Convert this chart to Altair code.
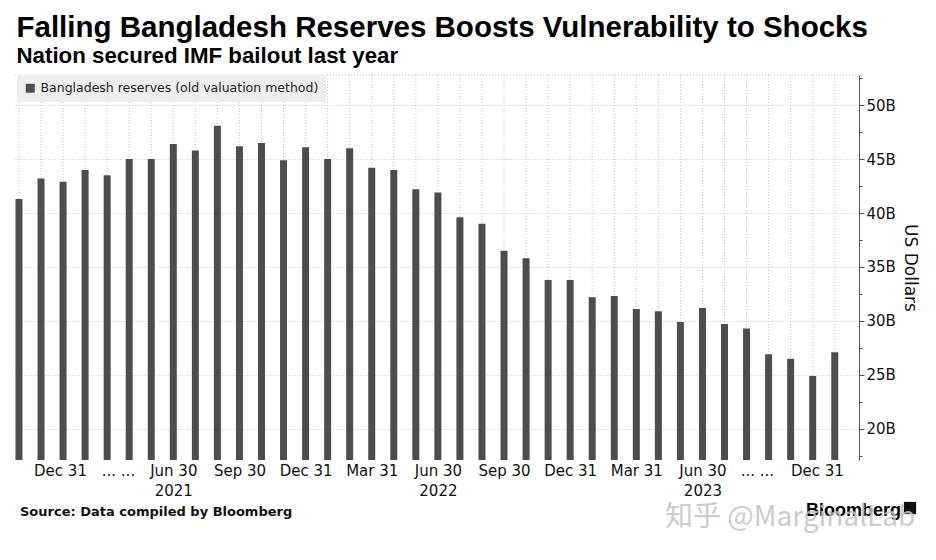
import altair as alt
import pandas as pd

# ---- data ----
months = pd.date_range("2020-11-30", periods=38, freq="ME").strftime("%Y-%m").tolist()
reserves = [41.3, 43.2, 42.9, 44.0, 43.5, 45.0, 45.0, 46.4, 45.8, 48.1,
            46.2, 46.5, 44.9, 46.1, 45.0, 46.0, 44.2, 44.0, 42.2, 41.9,
            39.6, 39.0, 36.5, 35.8, 33.8, 33.8, 32.2, 32.3, 31.1, 30.9,
            29.9, 31.2, 29.7, 29.3, 26.9, 26.5, 24.9, 27.1]
series_name = "Bangladesh reserves (old valuation method)"

tick_pos = [1.86, 4.49, 7, 10, 13, 16, 19, 22, 25, 28, 31, 33.47, 36.19]
tick_text = ["Dec 31", "... ...", "Jun 30", "Sep 30", "Dec 31", "Mar 31", "Jun 30",
             "Sep 30", "Dec 31", "Mar 31", "Jun 30", "... ...", "Dec 31"]
tick_year = ["", "", "2021", "", "", "", "2022", "", "", "", "2023", "", ""]

y_ticks = [17.5 + 2.5 * k for k in range(15)]
y_domain = [17.1, 52.8]
x_domain = [-0.18, 38.1]

W, H = 844, 385

df = pd.DataFrame({"idx": list(range(len(reserves))), "month": months,
                   "value": reserves, "series": series_name})

# label expression
parts = []
for t, yv in zip(tick_text, tick_year):
    parts.append(f"['{t}','{yv}']" if yv else f"'{t}'")
label_expr = "[" + ",".join(parts) + "][indexof([" + ",".join(str(p) for p in tick_pos) + "], datum.value)]"

xscale = alt.Scale(domain=x_domain, nice=False, zero=False, padding=0)
yscale = alt.Scale(domain=y_domain, nice=False, zero=False)

x_axis = alt.Axis(values=tick_pos, labelExpr=label_expr, domain=False, ticks=False, grid=False,
                  labelFont="DejaVu Sans", labelFontSize=15, labelColor="#111",
                  labelPadding=3, labelLineHeight=20, labelAngle=0, labelAlign="center",
                  labelOverlap=False, labelFlush=False, title=None)

y_axis = alt.Axis(orient="right", values=y_ticks,
                  labelExpr="datum.value % 5 == 0 ? format(datum.value, 'd') + 'B' : ''",
                  tickSize={"condition": {"test": "datum.value % 5 == 0", "value": 5}, "value": 3},
                  gridOpacity={"condition": {"test": "datum.value % 5 != 0", "value": 0}, "value": 1},
                  grid=True, gridDash=[1, 2], gridColor="#c4c4c4",
                  domainColor="#555", tickColor="#555",
                  labelFont="DejaVu Sans", labelFontSize=15, labelColor="#111", labelPadding=2,
                  labelOverlap=False, labelFlush=False,
                  title="US Dollars", titleFont="DejaVu Sans", titleFontSize=17,
                  titleFontWeight="normal", titleColor="#111", titlePadding=5)

vgrid = alt.Chart(df).mark_rule(strokeDash=[1, 2], color="#c4c4c4", strokeWidth=1).encode(
    x=alt.X("idx:Q", scale=xscale, axis=x_axis),
    y=alt.value(0), y2=alt.value(H))

topline = alt.Chart(df.head(1)).mark_rule(strokeDash=[1, 2], color="#c4c4c4").encode(
    x=alt.value(0), x2=alt.value(W), y=alt.value(0))

bars = alt.Chart(df).mark_bar(size=7, clip=True).encode(
    x=alt.X("idx:Q", scale=xscale, axis=x_axis),
    y=alt.Y("value:Q", scale=yscale, axis=y_axis),
    color=alt.Color("series:N", scale=alt.Scale(range=["#4d4d4d"]),
                    legend=alt.Legend(orient="none", legendX=2, legendY=0, title=None,
                                      fillColor="#eeeeee", padding=7, symbolType="square",
                                      symbolSize=80, symbolStrokeWidth=0, symbolOpacity=1,
                                      labelFont="DejaVu Sans", labelFontSize=12.5,
                                      labelColor="#222", labelLimit=400, symbolOffset=0)))

one = pd.DataFrame({"a": [0]})
source = alt.Chart(one).mark_text(text="Source: Data compiled by Bloomberg", font="DejaVu Sans",
                                  fontWeight="bold", fontSize=13, align="left", baseline="alphabetic",
                                  color="#111").encode(x=alt.value(5), y=alt.value(441))
bbg = alt.Chart(one).mark_text(text="Bloomberg", font="Liberation Sans", fontWeight="bold",
                               fontSize=18, align="left", baseline="alphabetic",
                               color="#000").encode(x=alt.value(791), y=alt.value(441))
bbg_icon = alt.Chart(one).mark_square(size=150, color="#111", opacity=1).encode(
    x=alt.value(895), y=alt.value(433))
watermark = alt.Chart(one).mark_text(text="知乎 @MarginalLab", font="Noto Sans CJK SC",
                                     fontSize=28, align="left", baseline="middle",
                                     color="#c2c2c2", opacity=0.85).encode(
    x=alt.value(650), y=alt.value(443))

chart = alt.layer(vgrid, topline, bars, source, bbg, bbg_icon, watermark).properties(
    width=W, height=H,
    autosize=alt.AutoSizeParams(type="none"),
    padding={"left": 7, "top": 67, "right": 69, "bottom": 92},
    title=alt.TitleParams(
        text="Falling Bangladesh Reserves Boosts Vulnerability to Shocks",
        subtitle="Nation secured IMF bailout last year",
        anchor="start", dx=2, offset=3,
        font="Liberation Sans", fontSize=29.5, fontWeight="bold", color="#000",
        subtitleFont="Liberation Sans", subtitleFontSize=22.3,
        subtitleFontWeight="bold", subtitleColor="#000", subtitlePadding=1)
).configure_view(stroke=None)

chart.save("out.html", embed_options={"renderer": "svg", "actions": False})
